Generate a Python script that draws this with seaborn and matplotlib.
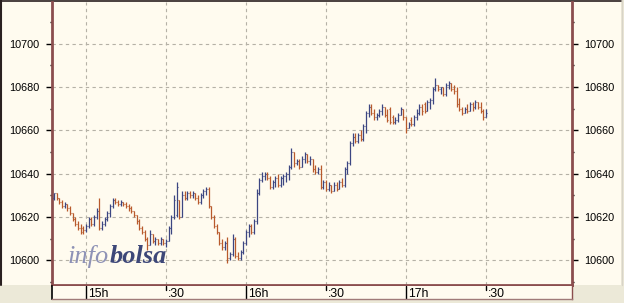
import matplotlib
matplotlib.use("Agg")
import matplotlib.pyplot as plt
import matplotlib.transforms as mtransforms
from matplotlib.patches import Rectangle
from matplotlib.lines import Line2D
import numpy as np
import pandas as pd
import seaborn as sns

# ---- data: 1-minute bars, minutes relative to 15:00 ----
minutes = list(range(-12, 151))
opens = [10629,10631,10629,10627,10625,10626,10624,10622,10619,10617,10615,10615,
         10614,10616,10619,10617,10620,10623,10615,10617,10619,10622,10625,10628,10627,10626,10627,10626,
         10625,10624,10623,10621,10618,10615,10613,10610,10607,10612,10609,10610,10608,10610,
         10608,10609,10615,10620,10621,10628,10620,10630,10629,10631,10630,10631,10629,10627,
         10630,10632,10633,10625,10620,10616,10613,10608,10606,10608,10601,10603,10610,10602,
         10601,10604,10608,10613,10616,10613,10618,10631,10637,10639,10640,10638,10634,10636,
         10638,10635,10638,10639,10640,10643,10650,10645,10646,10643,10647,10649,10646,10647,
         10642,10641,10642,10634,10636,10633,10635,10632,10635,10633,10636,10635,10642,10645,
         10654,10657,10655,10658,10656,10662,10668,10671,10668,10666,10667,10669,10671,10667,
         10670,10666,10664,10665,10667,10670,10666,10661,10665,10663,10666,10668,10671,10672,
         10669,10673,10674,10679,10681,10679,10680,10677,10681,10682,10679,10678,10672,10670,
         10668,10670,10669,10672,10671,10673,10671,10669,10666]
highs = [10631,10631,10629,10628,10627,10626,10625,10622,10620,10618,10617,10616,
         10617,10620,10620,10621,10624,10629,10618,10620,10623,10626,10629,10629,10628,10628,10627,10627,
         10626,10625,10623,10621,10619,10616,10614,10611,10614,10612,10611,10610,10611,10610,
         10610,10616,10621,10630,10636,10628,10632,10632,10632,10632,10632,10631,10630,10631,
         10633,10634,10634,10625,10621,10617,10613,10610,10609,10611,10604,10612,10611,10604,
         10605,10609,10614,10617,10617,10619,10633,10638,10641,10641,10641,10639,10637,10639,
         10640,10639,10640,10641,10644,10652,10650,10647,10647,10648,10650,10649,10648,10647,
         10644,10643,10644,10637,10637,10636,10635,10636,10636,10637,10638,10643,10646,10655,
         10659,10659,10659,10660,10663,10669,10672,10672,10670,10668,10670,10672,10671,10670,
         10671,10667,10666,10668,10671,10670,10666,10664,10666,10667,10670,10672,10672,10673,
         10674,10675,10680,10684,10681,10680,10680,10682,10683,10682,10681,10680,10675,10671,
         10671,10672,10673,10673,10674,10673,10673,10670,10670]
lows = [10628,10628,10626,10624,10624,10623,10621,10618,10616,10614,10612,10612,
        10613,10615,10616,10616,10619,10614,10614,10616,10618,10620,10624,10626,10625,10625,10625,10624,
        10623,10622,10620,10617,10614,10612,10609,10605,10607,10608,10607,10607,10607,10607,
        10606,10609,10612,10619,10620,10619,10620,10628,10628,10629,10629,10628,10626,10626,
        10629,10630,10624,10619,10615,10612,10607,10605,10605,10599,10600,10602,10601,10600,
        10600,10603,10607,10611,10612,10612,10617,10630,10636,10637,10637,10633,10633,10634,
        10634,10634,10635,10636,10637,10642,10643,10644,10642,10643,10645,10645,10644,10641,
        10640,10640,10633,10633,10632,10632,10631,10632,10632,10633,10634,10634,10640,10644,
        10653,10654,10654,10655,10655,10659,10666,10667,10665,10665,10666,10667,10666,10664,
        10663,10663,10663,10664,10667,10665,10659,10661,10662,10662,10665,10667,10667,10668,
        10669,10670,10672,10678,10678,10677,10676,10676,10679,10678,10677,10671,10669,10667,
        10668,10668,10669,10669,10670,10670,10668,10665,10666]
closes = [10631,10629,10627,10625,10626,10624,10622,10619,10617,10615,10613,10614,
          10616,10619,10617,10620,10623,10615,10617,10619,10622,10625,10628,10627,10626,10627,10626,10625,
          10624,10623,10621,10618,10615,10613,10610,10607,10612,10609,10610,10608,10610,10608,
          10609,10615,10620,10628,10634,10620,10630,10629,10631,10630,10631,10629,10627,10630,
          10632,10633,10625,10620,10616,10613,10608,10606,10608,10601,10603,10610,10602,10601,
          10604,10608,10613,10616,10613,10618,10631,10637,10639,10640,10638,10634,10636,10638,
          10635,10638,10639,10640,10643,10650,10645,10646,10643,10647,10649,10646,10647,10642,
          10641,10642,10634,10636,10633,10635,10632,10635,10633,10636,10635,10642,10645,10654,
          10657,10655,10658,10656,10662,10668,10671,10668,10666,10667,10669,10671,10667,10665,
          10664,10664,10665,10667,10670,10666,10661,10663,10663,10666,10668,10671,10669,10669,
          10673,10674,10679,10681,10679,10680,10677,10681,10682,10679,10678,10672,10670,10668,
          10670,10669,10672,10671,10673,10671,10669,10666,10668]
y_ticks = [10600, 10620, 10640, 10660, 10680, 10700]
x_tick_minutes = [0, 30, 60, 90, 120, 150]
x_tick_labels = ["15h", ":30", "16h", ":30", "17h", ":30"]

df = pd.DataFrame({"minute": minutes, "open": opens, "high": highs,
                   "low": lows, "close": closes})
df["dir"] = np.where(df["close"] >= df["open"], "up", "down")

UP = "#3c4682"
DOWN = "#b85a2c"
CREAM = "#fffbef"
BROWN = "#8b4e4e"
GRAY = "#ece9d8"

sns.set_theme(style="white")
plt.rcParams["font.family"] = ["Liberation Sans", "DejaVu Sans"]

W, H = 624, 303
fig = plt.figure(figsize=(W / 100, H / 100), dpi=100, facecolor=GRAY)


def fx(px):
    return px / W


def fy(py):
    return 1 - py / H


# cream panel with dark left/top border (drawn behind the axes)
fig.patches.append(Rectangle((0, fy(285)), fx(621), 1 - fy(285), transform=fig.transFigure,
                             facecolor=CREAM, edgecolor="none", zorder=-10))
fig.add_artist(Line2D([fx(1), fx(1)], [fy(0), fy(285)], color="#2a2020", lw=1.5, zorder=-5))
fig.add_artist(Line2D([fx(0), fx(621)], [fy(0.6), fy(0.6)], color="#2a2020", lw=1.2, zorder=-5))
fig.add_artist(Line2D([fx(621.5), fx(621.5)], [fy(0), fy(285)], color="#d8d4c8", lw=1, zorder=-5))

ax = fig.add_axes([fx(52), fy(285), fx(572) - fx(52), fy(2) - fy(285)])
ax.set_facecolor(CREAM)
ax.set_xlim(-12.75, 182.25)
ax.set_ylim(10588.7, 10719.2)

pal = {"up": UP, "down": DOWN}
colors = df["dir"].map(pal)
ax.vlines(df["minute"], df["low"], df["high"], colors=colors, lw=0.9, zorder=3)
ax.hlines(df["open"], df["minute"] - 0.33, df["minute"], colors=colors, lw=0.8, zorder=3)
ax.hlines(df["close"], df["minute"], df["minute"] + 0.33, colors=colors, lw=0.8, zorder=3)

for s in ["left", "right", "bottom"]:
    ax.spines[s].set_color(BROWN)
    ax.spines[s].set_linewidth(2)
ax.spines["top"].set_visible(False)

ax.set_yticks(y_ticks)
ax.set_yticklabels([str(v) for v in y_ticks])
ax.set_yticks([v for v in range(10590, 10720, 10) if v not in y_ticks], minor=True)
ax.tick_params(axis="y", which="major", left=True, right=True, labelleft=True, labelright=True,
               direction="out", length=4, width=1, color="black", pad=5,
               labelsize=7.8, labelcolor="black")
ax.tick_params(axis="y", which="minor", left=True, right=True, direction="out",
               length=1.6, width=1, color="black")
ax.set_xticks(x_tick_minutes)
ax.tick_params(axis="x", bottom=False, labelbottom=False)
ax.grid(True, which="major", linestyle=(0, (3, 3)), color="#b5b1a6", lw=0.8)
ax.set_axisbelow(True)

# label box under the axis
bx = fig.add_axes([fx(52), fy(299), fx(572) - fx(52), fy(286) - fy(299)])
bx.set_facecolor(CREAM)
bx.set_xlim(ax.get_xlim())
bx.set_ylim(0, 1)
bx.set_xticks([])
bx.set_yticks([])
bx.spines["top"].set_visible(False)
bx.spines["left"].set_color("black")
bx.spines["left"].set_linewidth(1.2)
bx.spines["right"].set_color(BROWN)
bx.spines["right"].set_linewidth(1)
bx.spines["bottom"].set_color("#a07a78")
bx.spines["bottom"].set_linewidth(1)
off = mtransforms.offset_copy(bx.transData, fig=fig, x=2, y=0, units="dots")
for t, lab in zip(x_tick_minutes, x_tick_labels):
    if lab.endswith("h"):
        bx.axvline(t, 0, 1, color="black", lw=1)
    else:
        bx.axvline(t, 0.7, 1, color="black", lw=1)
    bx.text(t, 0.42, lab, transform=off, ha="left", va="center", fontsize=8.8, color="black")

# watermark
fig.text(fx(68), fy(263), "info", family="Liberation Serif", style="italic", fontsize=19,
         color="#8e92b6", va="baseline", zorder=1)
fig.text(fx(110), fy(263), "bolsa", family="Liberation Serif", style="italic", weight="bold",
         fontsize=19, color="#3d4778", va="baseline", zorder=1)

fig.savefig("out.png", dpi=100, facecolor=GRAY)
